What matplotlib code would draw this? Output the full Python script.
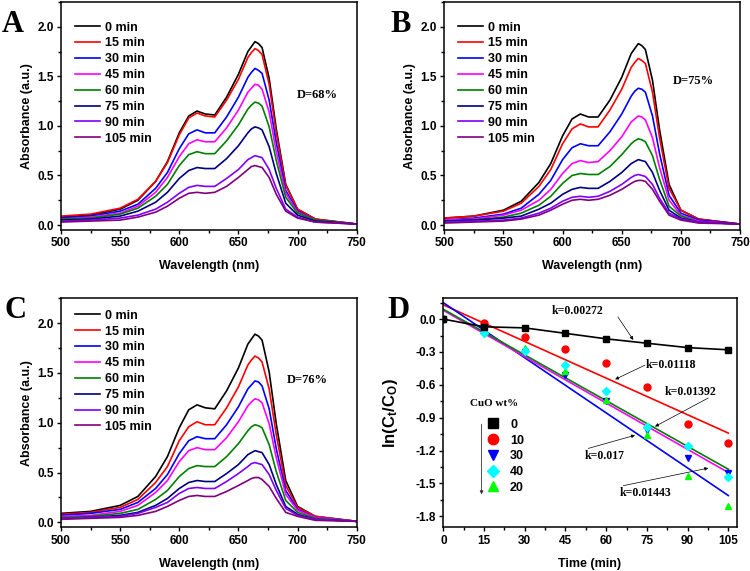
import matplotlib
matplotlib.use("Agg")
import matplotlib.pyplot as plt
from matplotlib.lines import Line2D
from matplotlib.ticker import MultipleLocator, FormatStrFormatter

# ---------------------------------------------------------
# data
# ---------------------------------------------------------
wl = [500, 525, 550, 565, 580, 590, 600, 608, 615, 622, 630,
      640, 650, 658, 661, 664, 667, 670, 676, 682, 690, 700, 715, 750]
times = ["0 min", "15 min", "30 min", "45 min", "60 min", "75 min", "90 min", "105 min"]
colors = ["#000000", "#ff0000", "#0000ff", "#ff00ff", "#008000", "#000080", "#8000ff", "#800080"]

spec_A = [
    [.08, .10, .16, .25, .44, .64, .93, 1.10, 1.15, 1.12, 1.11, 1.29, 1.52, 1.75, 1.80, 1.85, 1.83, 1.79, 1.48, .97, .41, .16, .06, .01],
    [.09, .11, .17, .26, .44, .63, .91, 1.08, 1.13, 1.10, 1.09, 1.26, 1.47, 1.69, 1.74, 1.78, 1.76, 1.72, 1.42, .93, .40, .16, .06, .01],
    [.07, .09, .14, .21, .37, .53, .77, .92, .96, .93, .93, 1.09, 1.29, 1.49, 1.54, 1.58, 1.56, 1.53, 1.26, .83, .35, .14, .05, .01],
    [.06, .08, .12, .19, .33, .48, .69, .82, .86, .84, .84, .98, 1.16, 1.34, 1.38, 1.42, 1.41, 1.37, 1.14, .74, .32, .13, .05, .01],
    [.06, .07, .11, .17, .29, .41, .60, .71, .74, .72, .72, .85, 1.01, 1.17, 1.21, 1.24, 1.23, 1.20, .99, .65, .28, .12, .05, .01],
    [.05, .06, .09, .14, .23, .33, .47, .55, .58, .57, .57, .67, .80, .93, .97, .99, .98, .96, .79, .52, .22, .10, .04, .01],
    [.04, .05, .07, .10, .16, .23, .32, .38, .40, .39, .39, .47, .56, .66, .68, .70, .69, .68, .56, .37, .16, .08, .03, .01],
    [.03, .04, .05, .08, .13, .19, .27, .32, .33, .32, .33, .39, .48, .56, .59, .60, .59, .58, .48, .31, .14, .07, .03, .01],
]
spec_B = [
    [.07, .09, .15, .24, .43, .62, .90, 1.07, 1.12, 1.09, 1.09, 1.26, 1.49, 1.73, 1.78, 1.83, 1.81, 1.77, 1.46, .96, .41, .15, .06, .01],
    [.07, .09, .14, .22, .39, .56, .82, .97, 1.02, .99, .99, 1.16, 1.37, 1.59, 1.64, 1.68, 1.66, 1.63, 1.34, .88, .37, .15, .06, .01],
    [.05, .07, .11, .17, .31, .45, .66, .78, .82, .80, .80, .94, 1.12, 1.30, 1.35, 1.38, 1.37, 1.34, 1.10, .72, .30, .12, .05, .01],
    [.05, .06, .10, .15, .25, .36, .52, .62, .65, .63, .64, .75, .89, 1.04, 1.07, 1.10, 1.09, 1.06, .88, .58, .25, .10, .04, .01],
    [.04, .05, .08, .12, .20, .29, .42, .50, .52, .51, .51, .59, .71, .82, .85, .87, .86, .84, .70, .46, .19, .09, .03, .01],
    [.04, .05, .07, .09, .16, .22, .31, .36, .38, .37, .37, .44, .53, .62, .64, .66, .65, .64, .53, .35, .15, .07, .03, .01],
    [.03, .04, .05, .07, .12, .17, .24, .28, .29, .28, .29, .34, .41, .48, .50, .51, .50, .49, .41, .27, .12, .06, .03, .01],
    [.02, .03, .04, .06, .10, .15, .21, .25, .26, .25, .26, .30, .36, .42, .44, .45, .45, .44, .36, .24, .10, .05, .02, .01],
]
spec_C = [
    [.09, .11, .17, .26, .46, .66, .95, 1.13, 1.18, 1.15, 1.14, 1.32, 1.55, 1.79, 1.84, 1.89, 1.87, 1.83, 1.51, .99, .42, .16, .06, .01],
    [.08, .10, .15, .23, .40, .56, .82, .96, 1.01, .98, .98, 1.15, 1.36, 1.58, 1.63, 1.67, 1.65, 1.61, 1.34, .88, .37, .15, .06, .01],
    [.07, .09, .13, .20, .34, .48, .69, .82, .86, .84, .84, .98, 1.16, 1.34, 1.38, 1.42, 1.41, 1.37, 1.14, .74, .32, .13, .05, .01],
    [.06, .07, .11, .17, .30, .42, .61, .72, .75, .73, .73, .85, 1.01, 1.17, 1.21, 1.24, 1.23, 1.20, .99, .65, .28, .12, .05, .01],
    [.05, .06, .09, .13, .23, .32, .46, .54, .57, .56, .56, .66, .79, .92, .96, .98, .97, .95, .78, .51, .22, .10, .04, .01],
    [.04, .05, .07, .10, .17, .24, .34, .40, .42, .41, .41, .49, .58, .68, .70, .72, .71, .70, .58, .38, .16, .08, .03, .01],
    [.04, .05, .06, .09, .15, .20, .29, .34, .35, .34, .34, .41, .49, .56, .59, .60, .59, .58, .48, .32, .14, .07, .03, .01],
    [.03, .04, .05, .07, .11, .16, .22, .26, .27, .26, .26, .31, .37, .42, .44, .45, .45, .43, .36, .24, .10, .06, .02, .01],
]
degradation = ["D=68%", "D=75%", "D=76%"]

# panel D: kinetics
t_min = [0, 15, 30, 45, 60, 75, 90, 105]
ln_0 = [0.0, -0.07, -0.08, -0.13, -0.18, -0.22, -0.26, -0.28]
ln_10 = [0.0, -0.04, -0.16, -0.27, -0.40, -0.62, -0.96, -1.13]
ln_30 = [0.0, -0.09, -0.30, -0.51, -0.75, -1.01, -1.27, -1.40]
ln_40 = [0.0, -0.13, -0.29, -0.42, -0.66, -0.98, -1.16, -1.44]
ln_20 = [0.0, -0.10, -0.26, -0.47, -0.74, -1.06, -1.43, -1.71]
# fitted lines: value at t=0 and t=105
fit_t = [0, 105]
fit_10 = [0.13, -1.04]
fit_30 = [0.15, -1.61]
fit_40 = [0.08, -1.40]
fit_20 = [0.09, -1.37]

plt.rcParams['font.family'] = ['Liberation Sans', 'DejaVu Sans']
plt.rcParams['font.weight'] = 'bold'
plt.rcParams['axes.labelweight'] = 'bold'
plt.rcParams['axes.linewidth'] = 1.1
plt.rcParams['mathtext.fontset'] = 'custom'
plt.rcParams['mathtext.rm'] = 'Liberation Sans:bold'
plt.rcParams['mathtext.bf'] = 'Liberation Sans:bold'
plt.rcParams['mathtext.it'] = 'Liberation Sans:bold'

fig = plt.figure(figsize=(7.5, 5.71), dpi=100)
ax_A = fig.add_axes([0.0813, 0.5972, 0.3943, 0.3993])
ax_B = fig.add_axes([0.5924, 0.5972, 0.3943, 0.3993])
ax_C = fig.add_axes([0.0813, 0.0765, 0.3943, 0.4011])
ax_D = fig.add_axes([0.5911, 0.0765, 0.3912, 0.4011])


def style_axis(ax):
    ax.tick_params(which='both', direction='out', top=False, right=False,
                   labelsize=8.5, width=1.0)
    ax.tick_params(which='major', length=3.2, pad=2)
    ax.tick_params(which='minor', length=2)
    for lab in ax.get_xticklabels() + ax.get_yticklabels():
        lab.set_fontweight('bold')


# --- spectra panels ---
for ax, spec, dtxt, dpos, legtop in [
        (ax_A, spec_A, degradation[0], (699, 1.31), 0.914),
        (ax_B, spec_B, degradation[1], (693, 1.45), 0.914),
        (ax_C, spec_C, degradation[2], (691, 1.43), 0.95)]:
    for row, lab, c in zip(spec, times, colors):
        ax.plot(wl, row, color=c, lw=1.2, label=lab, solid_joinstyle='round')
    ax.set_xlim(500, 750)
    ax.set_ylim(-0.05, 2.25)
    ax.xaxis.set_major_locator(MultipleLocator(50))
    ax.xaxis.set_minor_locator(MultipleLocator(25))
    ax.yaxis.set_major_locator(MultipleLocator(0.5))
    ax.yaxis.set_minor_locator(MultipleLocator(0.25))
    ax.yaxis.set_major_formatter(FormatStrFormatter('%.1f'))
    ax.set_xlabel("Wavelength (nm)", fontsize=9, labelpad=8)
    ax.set_ylabel("Absorbance (a.u.)", fontsize=9, labelpad=3)
    style_axis(ax)
    ax.text(dpos[0], dpos[1], dtxt, family='Liberation Serif', fontweight='bold',
            fontsize=9, va='center', ha='left')
    ax.legend(loc='upper left', bbox_to_anchor=(0.047, legtop), frameon=False,
              handlelength=2.0, handletextpad=0.4,
              labelspacing=0.31, borderpad=0, borderaxespad=0,
              prop={'weight': 'bold', 'size': 9})

# --- kinetics panel ---
ax = ax_D
ax.plot(t_min, ln_0, color='k', lw=1.2, marker='s', ms=4.5, zorder=3)
ax.plot(fit_t, fit_10, color='#ff0000', lw=1.2)
ax.plot(fit_t, fit_30, color='#0000ff', lw=1.2)
ax.plot(fit_t, fit_40, color='#ff00ff', lw=1.2)
ax.plot(fit_t, fit_20, color='#008000', lw=1.2)
ax.plot(t_min, ln_10, ls='none', marker='o', ms=5, color='#ff0000')
ax.plot(t_min, ln_30, ls='none', marker='v', ms=5, color='#0000ff')
ax.plot(t_min, ln_20, ls='none', marker='^', ms=5, color='#00ff00')
ax.plot(t_min, ln_40, ls='none', marker='D', ms=4.5, color='#00ffff')
ax.set_xlim(0, 108.1)
ax.set_ylim(-1.9, 0.19)
ax.xaxis.set_major_locator(MultipleLocator(15))
ax.xaxis.set_minor_locator(MultipleLocator(7.5))
ax.yaxis.set_major_locator(MultipleLocator(0.3))
ax.yaxis.set_minor_locator(MultipleLocator(0.15))
ax.yaxis.set_major_formatter(FormatStrFormatter('%.1f'))
ax.set_xlabel("Time (min)", fontsize=9, labelpad=8)
ax.set_ylabel(r"ln(C$_\mathregular{t}$/C$_\mathregular{O}$)", fontsize=12, labelpad=11)
style_axis(ax)

serif = dict(family='Liberation Serif', fontweight='bold', fontsize=8.5)
arrow = dict(arrowstyle='-|>', color='k', lw=0.5, mutation_scale=5, shrinkA=0, shrinkB=0)
ax.text(40, 0.076, "k=0.00272", va='center', **serif)
ax.annotate('', xy=(70, -0.19), xytext=(64.3, 0.02), arrowprops=arrow)
ax.text(74.5, -0.42, "k=0.01118", va='center', **serif)
ax.annotate('', xy=(63.3, -0.55), xytext=(74.3, -0.42), arrowprops=arrow)
ax.text(81.7, -0.665, "k=0.01392", va='center', **serif)
ax.annotate('', xy=(78, -0.98), xytext=(97.6, -0.72), arrowprops=arrow)
ax.text(52, -1.25, "k=0.017", va='center', **serif)
ax.annotate('', xy=(70.6, -1.06), xytext=(53.4, -1.18), arrowprops=arrow)
ax.text(65, -1.586, "k=0.01443", va='center', **serif)
ax.annotate('', xy=(97.6, -1.36), xytext=(66.3, -1.52), arrowprops=arrow)
ax.text(10, -0.766, "CuO wt%", va='center', family='Liberation Serif',
        fontweight='bold', fontsize=8)
ax.annotate('', xy=(14.1, -1.60), xytext=(14.1, -0.96),
            arrowprops=dict(arrowstyle='-|>', color='#333333', lw=0.6,
                            mutation_scale=5, shrinkA=0, shrinkB=0))

handles = [Line2D([], [], ls='none', marker='s', ms=6.5, color='k'),
           Line2D([], [], ls='none', marker='o', ms=7.5, color='#ff0000'),
           Line2D([], [], ls='none', marker='v', ms=7.5, color='#0000ff'),
           Line2D([], [], ls='none', marker='D', ms=6.5, color='#00ffff'),
           Line2D([], [], ls='none', marker='^', ms=7.5, color='#00ff00')]
ax.legend(handles, ["0", "10", "30", "40", "20"], loc='upper left',
          bbox_to_anchor=(0.147, 0.474), frameon=False, handlelength=1.0,
          handletextpad=0.89, labelspacing=0.3, borderpad=0, borderaxespad=0,
          prop={'weight': 'bold', 'size': 9})

# panel letters
letter = dict(family='Liberation Serif', fontweight='bold', fontsize=22, va='center', ha='left')
fig.text(0.002, 1 - 25 / 571, "A", **letter)
fig.text(390 / 750, 1 - 24 / 571, "B", **letter)
fig.text(4 / 750, 1 - 311 / 571, "C", **letter)
fig.text(387 / 750, 1 - 311 / 571, "D", **letter)

fig.savefig("out.png", dpi=100)
